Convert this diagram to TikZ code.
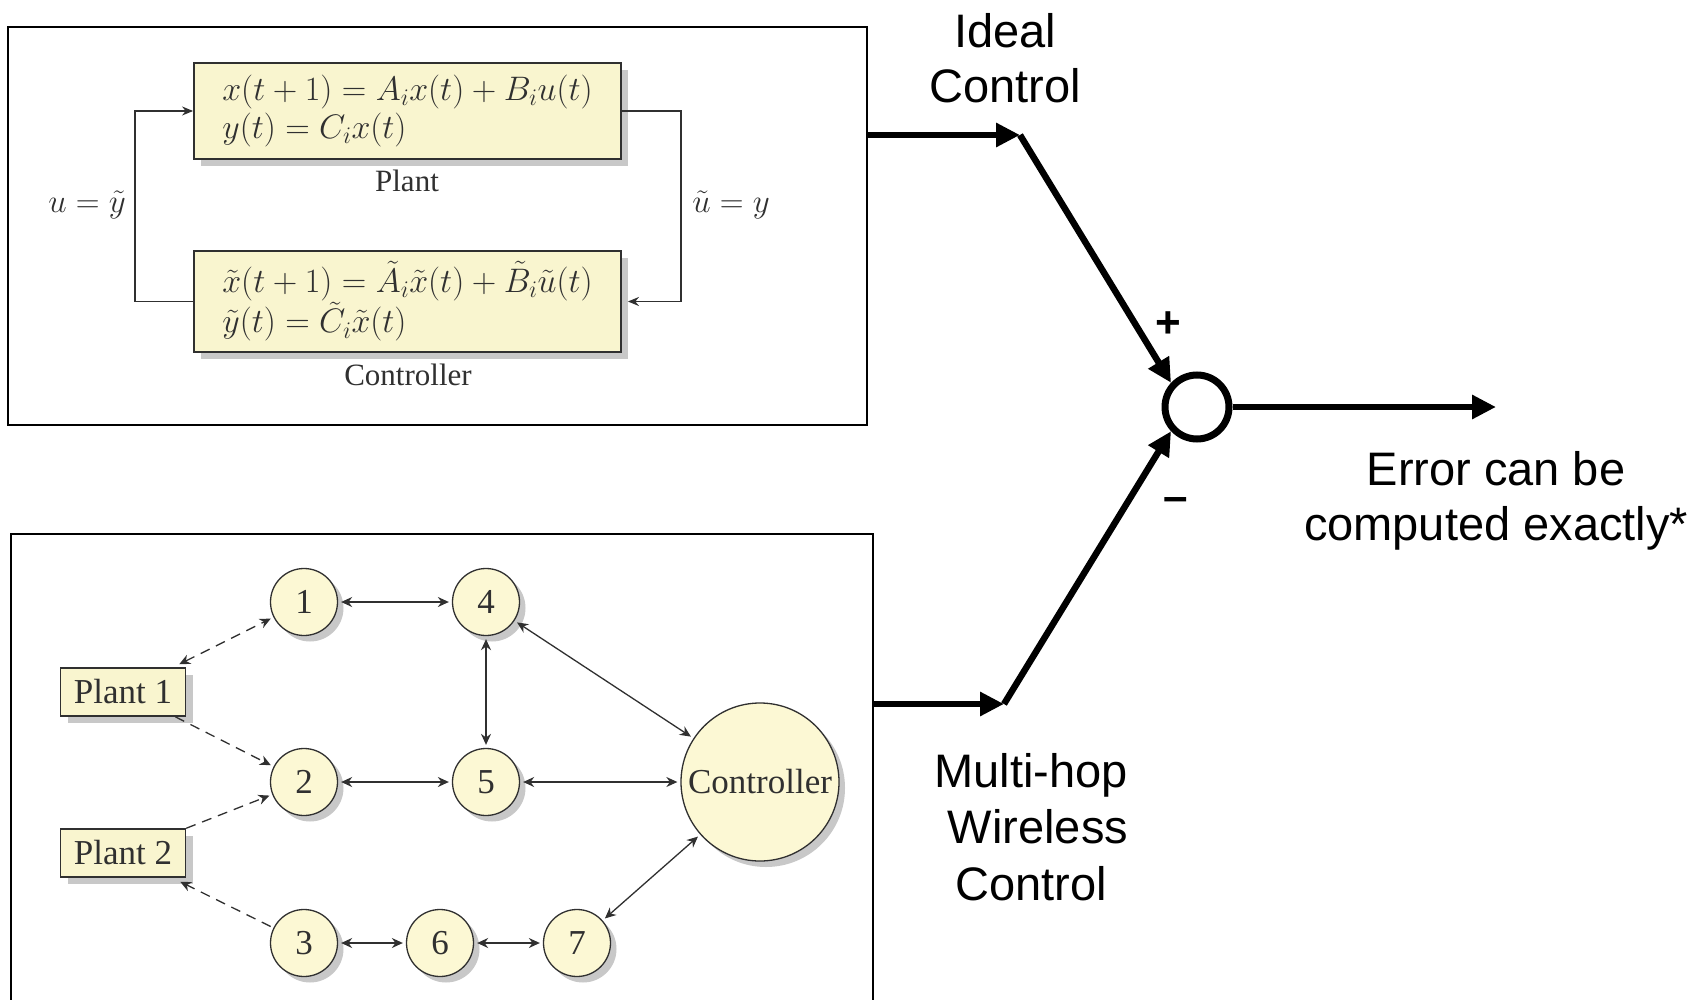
\documentclass[tikz,border=0pt]{standalone}
\usepackage{fix-cm}
\usepackage{fontspec}
\setmainfont{Liberation Serif}
\newfontfamily\arialfont{Liberation Sans}
\usetikzlibrary{arrows.meta,shadows,calc}
\definecolor{paleyellow}{HTML}{F9F5CF}
\definecolor{nodeyellow}{HTML}{FCF8D4}
\definecolor{shade}{HTML}{C8C8C8}
\definecolor{ink}{HTML}{303030}
\tikzset{
  frame/.style={draw=black, line width=2pt, inner sep=0pt},
  boxshadow/.style={drop shadow={shadow xshift=7pt, shadow yshift=-7pt, fill=shade, opacity=1}},
  eqbox/.style={draw=ink, line width=1.8pt, fill=paleyellow, minimum width=427pt,
    inner sep=0pt, align=left, text=ink, font=\fontsize{34}{38}\selectfont, boxshadow},
  caption/.style={anchor=base, font=\fontsize{31}{37}\selectfont, text=ink},
  mathlabel/.style={anchor=base, font=\fontsize{33}{37}\selectfont, text=ink},
  feedback/.style={draw=ink, line width=1.4pt, -{Stealth[length=11pt,width=9pt]}},
  netnode/.style={circle, draw=ink, line width=1.3pt, fill=nodeyellow, minimum size=67pt,
    inner sep=0pt, font=\fontsize{35}{40}\selectfont, text=ink,
    drop shadow={shadow xshift=6pt, shadow yshift=-6pt, fill=shade, opacity=1}},
  plantbox/.style={draw=ink, line width=1.5pt, fill=paleyellow, minimum width=125pt,
    minimum height=48pt, inner sep=0pt, font=\fontsize{35}{40}\selectfont, text=ink, boxshadow},
  link/.style={draw=ink, line width=1.3pt,
    {Stealth[length=11pt,width=10pt]}-{Stealth[length=11pt,width=10pt]},
    shorten >=3pt, shorten <=3pt},
  wireless/.style={draw=ink, line width=1.3pt, dash pattern=on 10pt off 7pt},
  tipw/.style={-{Stealth[length=11pt,width=10pt]}},
  bothw/.style={{Stealth[length=11pt,width=10pt]}-{Stealth[length=11pt,width=10pt]}},
  bigarrow/.style={line width=6.5pt, -{Triangle[length=24pt,width=23pt]}},
  sans/.style={anchor=base, font=\arialfont\fontsize{47}{56}\selectfont},
  signmark/.style={font=\arialfont\bfseries\fontsize{44}{50}\selectfont, inner sep=0pt}
}
\begin{document}
\begin{tikzpicture}[x=1pt,y=-1pt]
\fill[white] (0,0) rectangle (1702,1000);
\useasboundingbox (0,0) rectangle (1702,1000);

% ---- ideal (centralised) control loop ----
\node[frame, minimum width=859pt, minimum height=398pt] (topframe) at (437.5,226) {};
\node[eqbox, minimum height=96pt] (plant) at (407.5,111)
  {$x(t+1) = A_i x(t) + B_i u(t)$\\$y(t) = C_i x(t)$};
\node[eqbox, minimum height=101pt] (ctrl) at (407.5,301.5)
  {$\tilde{x}(t+1) = \tilde{A}_i \tilde{x}(t) + \tilde{B}_i \tilde{u}(t)$\\$\tilde{y}(t) = \tilde{C}_i \tilde{x}(t)$};
\node[caption] (plantcap) at (407,192) {Plant};
\node[caption] (ctrlcap) at (408,385) {Controller};
\draw[feedback] (ctrl.west) -- ++(-58,0) |- (plant.west);
\draw[feedback] (plant.east) -- ++(59,0) |- ([xshift=6pt]ctrl.east);
\node[mathlabel] (ulbl) at (87,213) {$u = \tilde{y}$};
\node[mathlabel] (utlbl) at (731,213) {$\tilde{u} = y$};

% ---- multi-hop wireless network ----
\node[frame, minimum width=862pt, minimum height=476pt] (botframe) at (442,772) {};
\node[netnode] (n1) at (304,602) {1};
\node[netnode] (n4) at (486,602) {4};
\node[netnode] (n2) at (304,782) {2};
\node[netnode] (n5) at (486,782) {5};
\node[netnode] (n3) at (304,943) {3};
\node[netnode] (n6) at (440,943) {6};
\node[netnode] (n7) at (577,943) {7};
\node[netnode, minimum size=158pt] (hub) at (760,782) {Controller};
\node[plantbox] (p1) at (123,692) {Plant 1};
\node[plantbox] (p2) at (123,853) {Plant 2};

\draw[link] (n1) -- (n4);
\draw[link] (n4) -- (n5);
\draw[link] (n4) -- (hub);
\draw[link] (n2) -- (n5);
\draw[link] (n5) -- (hub);
\draw[link] (n3) -- (n6);
\draw[link] (n6) -- (n7);
\draw[link] (n7) -- (hub);

\draw[wireless, bothw, shorten >=3pt] ([xshift=-7pt,yshift=3pt]p1.north east) -- (n1);
\draw[wireless, tipw, shorten >=3pt] ([xshift=-11pt]p1.south east) -- (n2);
\draw[wireless, tipw, shorten >=3pt] (p2.north east) -- (n2);
\draw[wireless, tipw, shorten <=3pt] (n3) -- ([xshift=-6pt,yshift=-4pt]p2.south east);

% ---- comparison of the two loops ----
\node[circle, draw=black, line width=7pt, minimum size=64pt, inner sep=0pt] (sum) at (1197,407) {};
\coordinate (j1) at (1020,135);
\coordinate (j2) at (1004,704);
\coordinate (out) at (1496,407);
\draw[bigarrow] (topframe.east |- j1) -- (j1);
\draw[bigarrow] (j1) -- (sum.137);
\draw[bigarrow] (botframe.east |- j2) -- (j2);
\draw[bigarrow] (j2) -- (sum.223);
\draw[bigarrow] (sum.east) -- (out);

\node[signmark] (plus) at (1168,325) {+};
\node[signmark] (minus) at (1176,505) {–};

\node[sans] (ideal1) at (1005,48) {Ideal};
\node[sans] (ideal2) at (1005,103) {Control};
\node[sans] (multi1) at (1031,787) {Multi-hop};
\node[sans] (multi2) at (1038,843) {Wireless};
\node[sans] (multi3) at (1031,900) {Control};
\node[sans] (err1) at (1496,485) {Error can be};
\node[sans] (err2) at (1496,540) {computed exactly*};
\end{tikzpicture}
\end{document}
